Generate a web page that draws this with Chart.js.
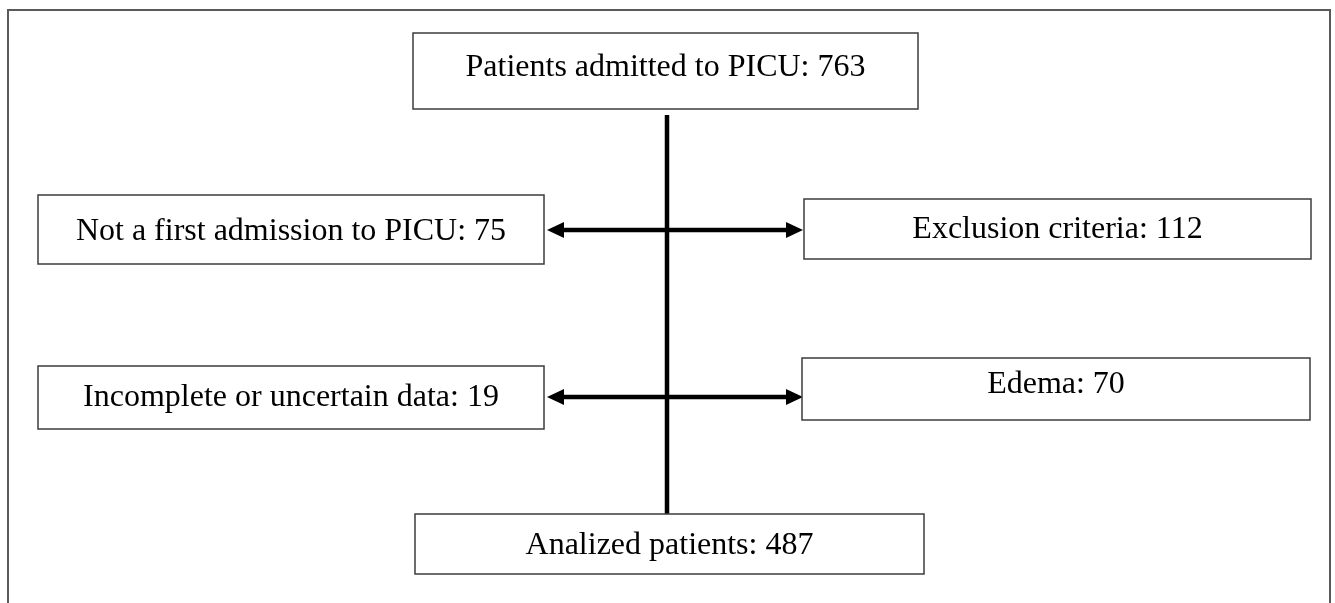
<!DOCTYPE html>
<html>
<head>
<meta charset="utf-8">
<script src="https://cdn.jsdelivr.net/npm/chart.js@4/dist/chart.umd.min.js"></script>
<style>
    html, body { margin: 0; padding: 0; background: #fff; }
    #wrap { width: 1335px; height: 603px; position: relative; }
</style>
</head>
<body>
<div id="wrap"><canvas id="flow"></canvas></div>
<script>
// Flow steps and patient counts
const stepLabels = [
    'Patients admitted to PICU',
    'Not a first admission to PICU',
    'Exclusion criteria',
    'Incomplete or uncertain data',
    'Edema',
    'Analized patients',
];
const stepCounts = [763, 75, 112, 19, 70, 487];

// Box layout in chart units (x: 0..1335, y: 0..603 from top)
const boxLeft   = [413, 38, 804, 38, 802, 415];
const boxTop    = [33, 195, 199, 366, 358, 514];
const boxRight  = [918, 544, 1311, 544, 1310, 924];
const boxBottom = [109, 264, 259, 429, 420, 574];
const textY     = [68, 232, 230, 398, 385, 546];

// Main vertical line and side arrows
const trunkX = 667;
const trunkTop = 115;
const trunkBottom = 514;
const arrowRows = [230, 397];
const arrowLeftTip = 547;
const arrowRightTip = 803;

const flowPlugin = {
    id: 'flowPlugin',
    afterDraw(chart) {
        const ctx = chart.ctx;
        const xs = chart.scales.x;
        const ys = chart.scales.y;
        const px = (v) => xs.getPixelForValue(v);
        const py = (v) => ys.getPixelForValue(v);

        ctx.save();

        // outer frame (open at the bottom)
        ctx.strokeStyle = '#5a5a5a';
        ctx.lineWidth = 2;
        ctx.beginPath();
        ctx.moveTo(px(8), py(603));
        ctx.lineTo(px(8), py(10));
        ctx.lineTo(px(1330), py(10));
        ctx.lineTo(px(1330), py(603));
        ctx.stroke();

        // trunk
        ctx.strokeStyle = '#000';
        ctx.lineWidth = 4.5;
        ctx.beginPath();
        ctx.moveTo(px(trunkX), py(trunkTop));
        ctx.lineTo(px(trunkX), py(trunkBottom));
        ctx.stroke();

        // double arrows
        arrowRows.forEach((row) => {
            const y = py(row);
            const l = px(arrowLeftTip);
            const r = px(arrowRightTip);
            ctx.lineWidth = 4.5;
            ctx.beginPath();
            ctx.moveTo(l + 12, y);
            ctx.lineTo(r - 12, y);
            ctx.stroke();
            ctx.fillStyle = '#000';
            ctx.beginPath();
            ctx.moveTo(l, y);
            ctx.lineTo(l + 17, y - 8);
            ctx.lineTo(l + 17, y + 8);
            ctx.closePath();
            ctx.fill();
            ctx.beginPath();
            ctx.moveTo(r, y);
            ctx.lineTo(r - 17, y - 8);
            ctx.lineTo(r - 17, y + 8);
            ctx.closePath();
            ctx.fill();
        });

        // boxes and text
        ctx.font = '32px "Liberation Serif", "Times New Roman", serif';
        ctx.textAlign = 'center';
        ctx.textBaseline = 'middle';
        stepLabels.forEach((label, i) => {
            const x0 = px(boxLeft[i]);
            const x1 = px(boxRight[i]);
            const y0 = py(boxTop[i]);
            const y1 = py(boxBottom[i]);
            ctx.fillStyle = '#fff';
            ctx.fillRect(x0, y0, x1 - x0, y1 - y0);
            ctx.strokeStyle = '#3c3c3c';
            ctx.lineWidth = 1.5;
            ctx.strokeRect(x0, y0, x1 - x0, y1 - y0);
            ctx.fillStyle = '#000';
            ctx.fillText(`${label}: ${stepCounts[i]}`, (x0 + x1) / 2, py(textY[i]));
        });

        ctx.restore();
    },
};

new Chart(document.getElementById('flow').getContext('2d'), {
    type: 'scatter',
    data: { datasets: [{ data: [], pointRadius: 0 }] },
    options: {
        responsive: true,
        maintainAspectRatio: false,
        animation: false,
        layout: { padding: 0 },
        plugins: { legend: { display: false }, tooltip: { enabled: false } },
        scales: {
            x: { type: 'linear', min: 0, max: 1335, display: false },
            y: { type: 'linear', min: 0, max: 603, reverse: true, display: false },
        },
    },
    plugins: [flowPlugin],
});
</script>
</body>
</html>
